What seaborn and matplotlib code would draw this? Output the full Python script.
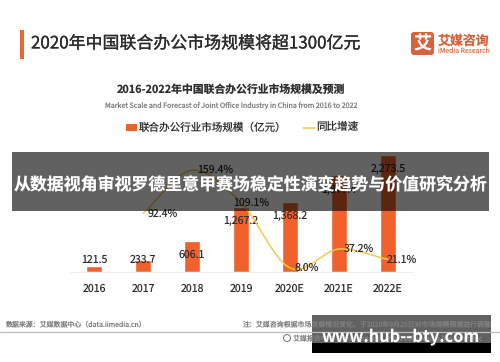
import numpy as np
import pandas as pd
import matplotlib
matplotlib.use('Agg')
import matplotlib.pyplot as plt
import matplotlib.patheffects as pe
from matplotlib.patches import FancyBboxPatch, PathPatch, Rectangle, Circle
from matplotlib.path import Path
import seaborn as sns

years = ['2016', '2017', '2018', '2019', '2020E', '2021E', '2022E']
market_size = [121.5, 233.7, 606.1, 1267.2, 1368.2, 1877.4, 2273.5]
size_labels = ['121.5', '233.7', '606.1', '1,267.2', '1,368.2', '1,877.4', '2,273.5']
growth_years = ['2017', '2018', '2019', '2020E', '2021E', '2022E']
growth = [92.4, 159.4, 109.1, 8.0, 37.2, 21.1]
growth_labels = ['92.4%', '159.4%', '109.1%', '8.0%', '37.2%', '21.1%']

# offsets of the labels from the marks, in pixels
size_offset = [6, 0, -14, -14, -14, -14, -14]
growth_offset = [20, 23, 10, 17, 20, 14]

ORANGE = '#f2612c'
YELLOW = '#f6c945'
DARK = '#2e2e2e'
GREY = '#808080'

sns.set_theme(style='white')
plt.rcParams['font.family'] = ['Noto Sans CJK SC', 'DejaVu Sans']
plt.rcParams['text.hinting'] = 'no_hinting'
plt.rcParams['text.hinting_factor'] = 1

fig = plt.figure(figsize=(5, 3.62), dpi=100)
fig.patch.set_facecolor('white')

# chart area: baseline at y=272.3 px, left 69.5 px, right 412.5 px
W, H = 500, 362
ax = fig.add_axes([69.5 / W, 1 - 272.3 / H, 343 / W, 122.3 / H])
df = pd.DataFrame({'year': years, 'size': market_size})
sns.barplot(data=df, x='year', y='size', color=ORANGE, saturation=1, width=0.32, ax=ax)
ax.set_xlim(-0.5, 6.5)
ax.set_ylim(0, 2370)
ax.set_xlabel('')
ax.set_ylabel('')
ax.set_yticks([])
ax.tick_params(axis='x', length=0, pad=8, labelsize=7.6, labelcolor=DARK)
sns.despine(ax=ax, left=True)
ax.spines['bottom'].set_color('#eeeeee')
ax.spines['bottom'].set_linewidth(0.8)
ax.patch.set_alpha(0)

for i, (v, lab, off) in enumerate(zip(market_size, size_labels, size_offset)):
    ax.annotate(lab, (i, v), xytext=(0, off * 0.72), textcoords='offset points',
                ha='center', va='center', fontsize=7.6, color=DARK, zorder=5)

# growth rate on its own scale
ax2 = ax.twinx()
ax2.set_ylim(1.1, 190.7)
ax2.set_yticks([])
ax2.patch.set_alpha(0)
sns.despine(ax=ax2, left=True, right=True, top=True, bottom=True)

gx = [years.index(y) for y in growth_years]
# smooth line, bezier handles taken from the neighbouring values
verts = [(gx[0], growth[0])]
codes = [Path.MOVETO]
for i in range(len(gx) - 1):
    prev_i = max(i - 1, 0)
    next_i = min(i + 2, len(gx) - 1)
    s0 = (growth[i + 1] - growth[prev_i]) / (gx[i + 1] - gx[prev_i])
    s1 = (growth[next_i] - growth[i]) / (gx[next_i] - gx[i])
    verts.append((gx[i] + 1 / 3, growth[i] + s0 / 3))
    verts.append((gx[i + 1] - 1 / 3, growth[i + 1] - s1 / 3))
    verts.append((gx[i + 1], growth[i + 1]))
    codes += [Path.CURVE4, Path.CURVE4, Path.CURVE4]
ax2.add_patch(PathPatch(Path(verts, codes), fill=False, edgecolor=YELLOW, linewidth=1.1))

for x, v, lab, off in zip(gx, growth, growth_labels, growth_offset):
    ax2.annotate(lab, (x, v), xytext=(off * 0.72, 0), textcoords='offset points',
                 ha='center', va='center', fontsize=7.6, color=DARK)

# overlay in pixel coordinates for header, footer and banners
ov = fig.add_axes([0, 0, 1, 1], zorder=10)
ov.set_xlim(0, W)
ov.set_ylim(H, 0)
ov.axis('off')

ov.add_patch(Rectangle((20, 30), 4, 29, color='#e0683a', lw=0))
ov.text(31, 43.5, '2020年中国联合办公市场规模将超1300亿元', fontsize=12.2,
        color='#2b2b2b', va='center', ha='left',
        path_effects=[pe.withStroke(linewidth=0.2, foreground='#2b2b2b')])

ov.add_patch(FancyBboxPatch((413, 34), 19, 19, boxstyle='round,pad=2,rounding_size=3',
                            fc='#d9623b', ec='none'))
ov.text(422.5, 44, '艾', fontsize=13, color='white', weight='bold', ha='center', va='center')
ov.text(438, 41, '艾媒咨询', fontsize=9.3, color='#d9623b', weight='bold', ha='left', va='center')
ov.text(438, 51, 'iMedia Research', fontsize=4.9, color='#d9825f', ha='left', va='center')

ov.text(231, 89.5, '2016-2022年中国联合办公行业市场规模及预测', fontsize=7.8,
        color=DARK, weight='bold', ha='center', va='center')
ov.text(231, 105, 'Market Scale and Forecast of Joint Office Industry in China from 2016 to 2022',
        fontsize=5.1, color=GREY, ha='center', va='center')

ov.add_patch(Rectangle((126, 124), 11, 7, color=ORANGE, lw=0))
ov.text(139, 127.5, '联合办公行业市场规模（亿元）', fontsize=7.6, color=DARK, ha='left', va='center')
ov.plot([303, 315], [127.5, 127.5], color=YELLOW, lw=1.1)
ov.text(316, 127.5, '同比增速', fontsize=7.6, color=DARK, ha='left', va='center')

# footer
ov.text(5, 325, '数据来源：艾媒数据中心（data.iimedia.cn）', fontsize=5, color=GREY, ha='left', va='center')
ov.text(492, 325, '注：艾媒咨询根据市场发展情况变化，于2020年9月25日对市场规模预测进行调整', fontsize=5,
        color=GREY, ha='right', va='center')
ov.plot([0, 500], [332, 332], color='#bbbbbb', lw=0.9)
ov.add_patch(Circle((287, 338), 3.5, fc='none', ec=GREY, lw=0.8))
ov.text(293, 338, '艾媒报告中心 report.iimedia.cn ©2020 iiMedia Research Inc', fontsize=5,
        color=GREY, ha='left', va='center')

# dark banners on top of the picture
ov.add_patch(Rectangle((12, 152), 477, 58.7, fc='black', alpha=0.62, lw=0))
ov.text(250.5, 185, '从数据视角审视罗德里意甲赛场稳定性演变趋势与价值研究分析', fontsize=12.2,
        color='white', weight='bold', ha='center', va='center')

ov.add_patch(Rectangle((312, 315), 179, 27.5, fc='black', alpha=0.62, lw=0))
ov.add_patch(Rectangle((312, 342.5), 179, 10.5, fc='black', lw=0))
ov.text(400.5, 337, 'www.hub--bty.com', fontsize=11.8, color='white', weight='bold',
        ha='center', va='center')

fig.savefig('out.png', dpi=100)
